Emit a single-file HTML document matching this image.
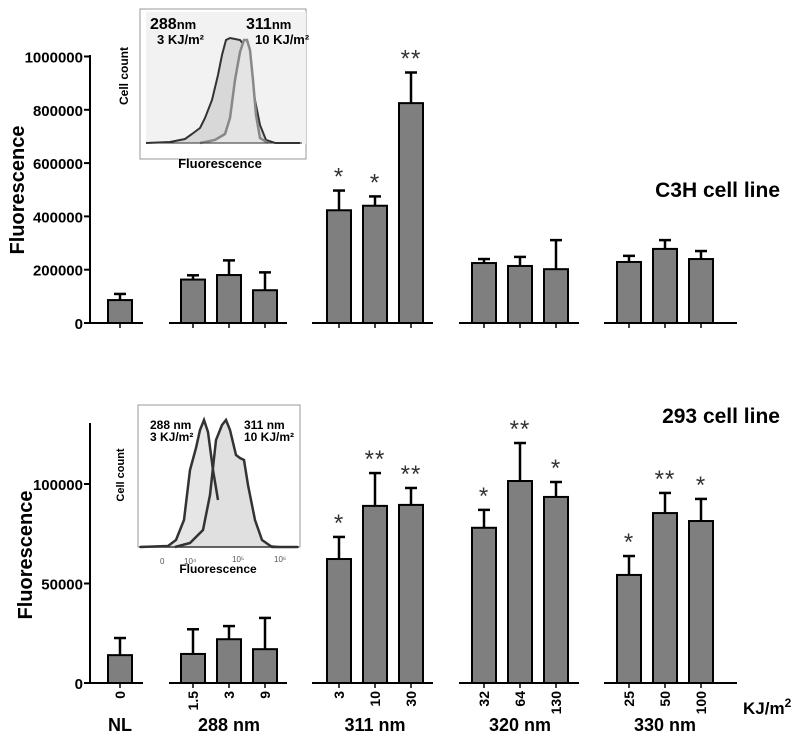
<!DOCTYPE html>
<html><head><meta charset="utf-8"><style>
body{margin:0;background:#fff}
svg{display:block;font-family:"Liberation Sans",Arial,sans-serif}
</style></head><body>
<svg id="chart" width="800" height="740" viewBox="0 0 800 740">
<g id="top"></g>
<g id="bot"></g>
<text x="780" y="197" text-anchor="end" font-size="21" font-weight="bold">C3H cell line</text>
<text x="780" y="423" text-anchor="end" font-size="21" font-weight="bold">293 cell line</text>
<text x="24" y="190" transform="rotate(-90 24 190)" text-anchor="middle" font-size="20" font-weight="bold">Fluorescence</text>
<text x="32" y="555" transform="rotate(-90 32 555)" text-anchor="middle" font-size="20" font-weight="bold">Fluorescence</text>
<text x="743" y="714" font-size="17" font-weight="bold">KJ/m<tspan dy="-7" font-size="12">2</tspan></text>
<!-- top inset -->
<g>
<rect x="140" y="9" width="166" height="150" fill="#fff" stroke="#999" stroke-width="1"/>
<rect x="146" y="12" width="160" height="132" fill="#f2f2f2"/>
<path d="M146,143 L170,142 L185,139 L192,134 L200,128 L205,118 L212,100 L218,75 L222,55 L226,40 L230,38 L235,39 L240,40 L245,46 L250,72 L255,100 L260,125 L266,140 L275,143 L300,143" fill="#d8d8d8" stroke="#333" stroke-width="2"/>
<path d="M200,143 L215,140 L225,134 L230,118 L235,80 L240,52 L244,40 L247,40 L250,50 L253,80 L256,115 L260,138 L268,143" fill="#e4e4e4" stroke="#888" stroke-width="2.5"/>
<line x1="146" y1="143" x2="302" y2="143" stroke="#333" stroke-width="1"/>
<text x="150" y="29" font-size="16" font-weight="bold">288<tspan font-size="13">nm</tspan></text>
<text x="157" y="44" font-size="13" font-weight="bold">3 KJ/m²</text>
<text x="246" y="29" font-size="16" font-weight="bold">311<tspan font-size="13">nm</tspan></text>
<text x="255" y="44" font-size="13" font-weight="bold">10 KJ/m²</text>
<text x="128" y="76" transform="rotate(-90 128 76)" text-anchor="middle" font-size="12" font-weight="bold">Cell count</text>
<text x="220" y="168" text-anchor="middle" font-size="13" font-weight="bold">Fluorescence</text>
</g>
<!-- bottom inset -->
<g>
<rect x="138" y="405" width="162" height="142" fill="#fff" stroke="#999" stroke-width="1"/>
<path d="M140,547 L168,546 L176,540 L184,520 L190,470 L196,448 L200,430 L204,420 L208,432 L213,470 L218,500 L225,520 L235,536 L255,538 L263,545 L280,547" fill="#e6e6e6" stroke="#666" stroke-width="2"/>
<path d="M175,547 L190,543 L203,530 L210,495 L216,440 L222,425 L226,420 L230,430 L236,455 L240,458 L244,460 L248,485 L255,520 L262,540 L272,547 L298,547" fill="#e0e0e0" stroke="#333" stroke-width="2.5"/>
<path d="M140,547 L168,546 L176,540 L184,520 L190,470 L196,448 L200,430 L204,420 L208,432 L213,470 L218,500" fill="none" stroke="#333" stroke-width="2.5"/>
<line x1="139" y1="547" x2="299" y2="547" stroke="#333" stroke-width="1.5"/>
<text x="150" y="429" font-size="12" font-weight="bold">288 nm</text>
<text x="150" y="441" font-size="12" font-weight="bold">3 KJ/m²</text>
<text x="244" y="429" font-size="12" font-weight="bold">311 nm</text>
<text x="244" y="441" font-size="12" font-weight="bold">10 KJ/m²</text>
<text x="124" y="475" transform="rotate(-90 124 475)" text-anchor="middle" font-size="11" font-weight="bold">Cell count</text>
<text x="218" y="573" text-anchor="middle" font-size="12" font-weight="bold">Fluorescence</text>
<text x="160" y="564" font-size="8" fill="#555">0</text>
<text x="184" y="564" font-size="8" fill="#555">10⁴</text>
<text x="232" y="562" font-size="8" fill="#555">10⁵</text>
<text x="274" y="562" font-size="8" fill="#555">10⁶</text>
</g>
</svg>
<script>
const groupNames = ["NL","288 nm","311 nm","320 nm","330 nm"];
const doseLabels = ["0","1.5","3","9","3","10","30","32","64","130","25","50","100"];
const topMeans = [86000,163000,180000,123000,423000,440000,825000,225000,214000,202000,229000,278000,240000];
const topErr = [109000,179000,235000,190000,497000,475000,940000,240000,248000,311000,252000,311000,270000];
const topStars = ["","","","","*","*","**","","","","","",""];
const topTicks = [0,200000,400000,600000,800000,1000000];
const botMeans = [14000,14600,22000,17000,62300,89000,89500,78000,101500,93500,54300,85400,81400];
const botErr = [22600,27000,28600,32700,73400,105500,98000,87000,120600,101000,63800,95500,92500];
const botStars = ["","","","","*","**","**","*","**","*","*","**","*"];
const botTicks = [0,50000,100000];

const groupOf = [0,1,1,1,2,2,2,3,3,3,4,4,4];
const barCx = [120,193,229,265,339,375,411,484,520,556,629,665,701];
const segs = [[90,143],[169,287],[312,433],[459,579],[604,737]];
const NS="http://www.w3.org/2000/svg";
function mk(parent,tag,attrs){const e=document.createElementNS(NS,tag);for(const k in attrs)e.setAttribute(k,attrs[k]);parent.appendChild(e);return e;}

function panel(gid,means,errs,stars,ticks,y0,yTopPx,vmax,axisTop,xlabels){
  const g=document.getElementById(gid);
  const y=v=>y0-(v/vmax)*(y0-yTopPx);
  const ax=mk(g,'line',{x1:90,y1:axisTop,x2:90,y2:y0,stroke:'#000','stroke-width':2});
  
  
  ticks.forEach(t=>{
    mk(g,'line',{x1:84,y1:y(t),x2:90,y2:y(t),stroke:'#000','stroke-width':2});
    const tx=mk(g,'text',{x:83,y:y(t)+6,'text-anchor':'end','font-size':15,'font-weight':'bold'});
    tx.textContent=String(t);
    
    
  });
  segs.forEach(s=>{
    const l=mk(g,'line',{x1:s[0],y1:y0,x2:s[1],y2:y0,stroke:'#000','stroke-width':2});
    
    
  });
  means.forEach((m,i)=>{
    const cx=barCx[i];
    mk(g,'line',{x1:cx,y1:y0,x2:cx,y2:y0+5,stroke:'#000','stroke-width':1.5});
    const ey=y(errs[i]);
    mk(g,'line',{x1:cx,y1:y(m),x2:cx,y2:ey,stroke:'#000','stroke-width':2.5});
    mk(g,'line',{x1:cx-6,y1:ey,x2:cx+6,y2:ey,stroke:'#000','stroke-width':2.5});
    const r=mk(g,'rect',{x:cx-12,y:y(m),width:24,height:y0-y(m),fill:'#7f7f7f',stroke:'#000','stroke-width':2});
    
    
    if(stars[i]){
      const st=mk(g,'text',{x:cx,y:ey-6,'text-anchor':'middle','font-size':24,fill:'#333','letter-spacing':'1'});
      st.textContent=stars[i];
      
      
    }
    if(xlabels){
      const tx=mk(g,'text',{x:cx+5,y:y0+8,'text-anchor':'end','font-size':14,'font-weight':'bold',transform:'rotate(-90 '+(cx+5)+' '+(y0+8)+')'});
      tx.textContent=doseLabels[i];
      
      
    }
  });
  if(xlabels){
    groupNames.forEach((n,gi)=>{
      const idx=groupOf.map((v,k)=>v===gi?k:-1).filter(k=>k>=0);
      const c=(barCx[idx[0]]+barCx[idx[idx.length-1]])/2;
      const tx=mk(g,'text',{x:c,y:731,'text-anchor':'middle','font-size':18,'font-weight':'bold'});
      tx.textContent=n;
      
      
    });
  }
}
panel('top',topMeans,topErr,topStars,topTicks,323,56.5,1000000,55,false);
panel('bot',botMeans,botErr,botStars,botTicks,683,484,100000,423,true);
</script>
</body></html>
